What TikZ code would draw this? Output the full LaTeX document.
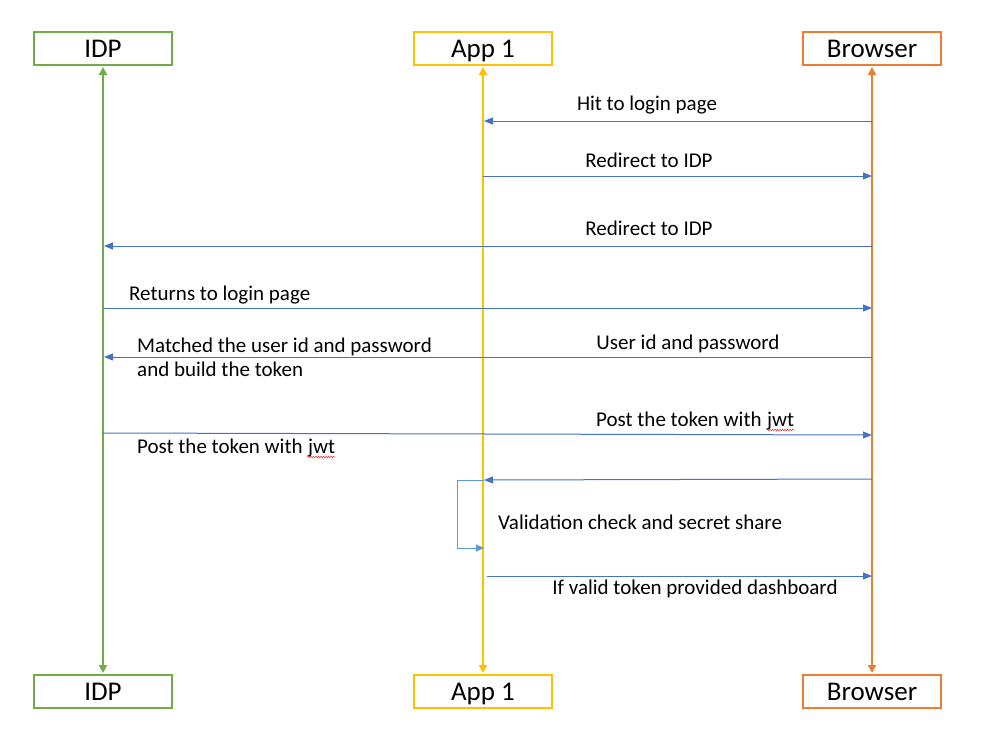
\documentclass[tikz,border=0pt]{standalone}
\usepackage{fontspec}
\setmainfont{Carlito}
\usetikzlibrary{arrows.meta,decorations.pathmorphing}
\definecolor{cgreen}{HTML}{70AD47}
\definecolor{cgold}{HTML}{FFC000}
\definecolor{corange}{HTML}{ED7D31}
\definecolor{cblue}{HTML}{4472C4}
\definecolor{clblue}{HTML}{5B9BD5}
\definecolor{cred}{HTML}{E02020}
\tikzset{
  actor/.style={draw=#1, line width=2pt, minimum width=138pt, minimum height=33pt, inner sep=0pt, text height=20pt, text depth=3pt, font=\fontsize{27}{30}\selectfont, fill=white},
  life/.style={draw=#1, line width=2pt, {Triangle[length=8pt,width=8pt]}-{Triangle[length=8pt,width=8pt]}, shorten <=1pt, shorten >=1pt},
  msg/.style={draw=cblue, line width=1pt, -{Triangle[length=9pt,width=7pt]}},
  lbl/.style={font=\fontsize{21}{24}\selectfont, inner sep=0pt, text height=16pt, text depth=2pt},
  squig/.style={draw=cred, line width=0.5pt, decorate, decoration={snake, amplitude=0.8pt, segment length=2.5pt}}
}
\begin{document}
\begin{tikzpicture}[x=1pt,y=-1pt]
\useasboundingbox (0,0) rectangle (982,728);
% actors
\node[actor=cgreen] (idpT) at (103,48.5) {IDP};
\node[actor=cgold] (appT) at (483,48.5) {App 1};
\node[actor=corange] (brT) at (872,48.5) {Browser};
\node[actor=cgreen] (idpB) at (103,691.5) {IDP};
\node[actor=cgold] (appB) at (483,691.5) {App 1};
\node[actor=corange] (brB) at (872,691.5) {Browser};
% lifelines
\draw[life=cgreen] (idpB.north) -- (idpT.south);
\draw[life=cgold] (appB.north) -- (appT.south);
\draw[life=corange] (brB.north) -- (brT.south);
% message anchor points
\coordinate (b1) at (872,121); \coordinate (a1) at (484,121);
\coordinate (a2) at (483,176); \coordinate (b2) at (872,176);
\coordinate (b3) at (872,246); \coordinate (i3) at (104,246);
\coordinate (i4) at (103,308); \coordinate (b4) at (872,308);
\coordinate (b5) at (872,357); \coordinate (i5) at (104,357);
\coordinate (i6) at (103,433); \coordinate (b6) at (872,435);
\coordinate (b7) at (872,479); \coordinate (a7) at (484,480);
\coordinate (l1) at (457,480); \coordinate (l2) at (457,548); \coordinate (a8) at (484,548);
\coordinate (a9) at (487,576); \coordinate (b9) at (872,576);
% messages
\draw[msg] (b1) -- (a1);
\node[lbl] (t1) at (647,103) {Hit to login page};
\draw[msg] (a2) -- (b2);
\node[lbl] (t2) at (649,160) {Redirect to IDP};
\draw[msg] (b3) -- (i3);
\node[lbl] (t3) at (649,228) {Redirect to IDP};
\draw[msg] (i4) -- (b4);
\node[lbl, anchor=west] (t4) at (129,293) {Returns to login page};
\draw[msg] (b5) -- (i5);
\node[lbl] (t5) at (688,342) {User id and password};
\node[lbl, anchor=west] (t5b) at (137,345) {Matched the user id and password};
\node[lbl, anchor=west] (t5c) at (137,369) {and build the token};
\draw[msg] (i6) -- (b6);
\node[lbl, anchor=base west] (t6) at (596,426) {Post the token with};
\node[lbl, anchor=base west] (t6w) at ([xshift=5pt]t6.base east) {jwt};
\draw[squig] ([yshift=-4pt]t6w.base west) -- ([yshift=-4pt]t6w.base east);
\node[lbl, anchor=base west] (t6b) at (137,453) {Post the token with};
\node[lbl, anchor=base west] (t6bw) at ([xshift=5pt]t6b.base east) {jwt};
\draw[squig] ([yshift=-4pt]t6bw.base west) -- ([yshift=-4pt]t6bw.base east);
\draw[msg] (b7) -- (a7);
\draw[draw=clblue, line width=1pt, -{Triangle[length=8pt,width=7pt]}] (a7) -- (l1) -- (l2) -- (a8);
\node[lbl, anchor=west] (t7) at (498,522) {Validation check and secret share};
\draw[msg] (a9) -- (b9);
\node[lbl] (t8) at (695,587) {If valid token provided dashboard};
\end{tikzpicture}
\end{document}
